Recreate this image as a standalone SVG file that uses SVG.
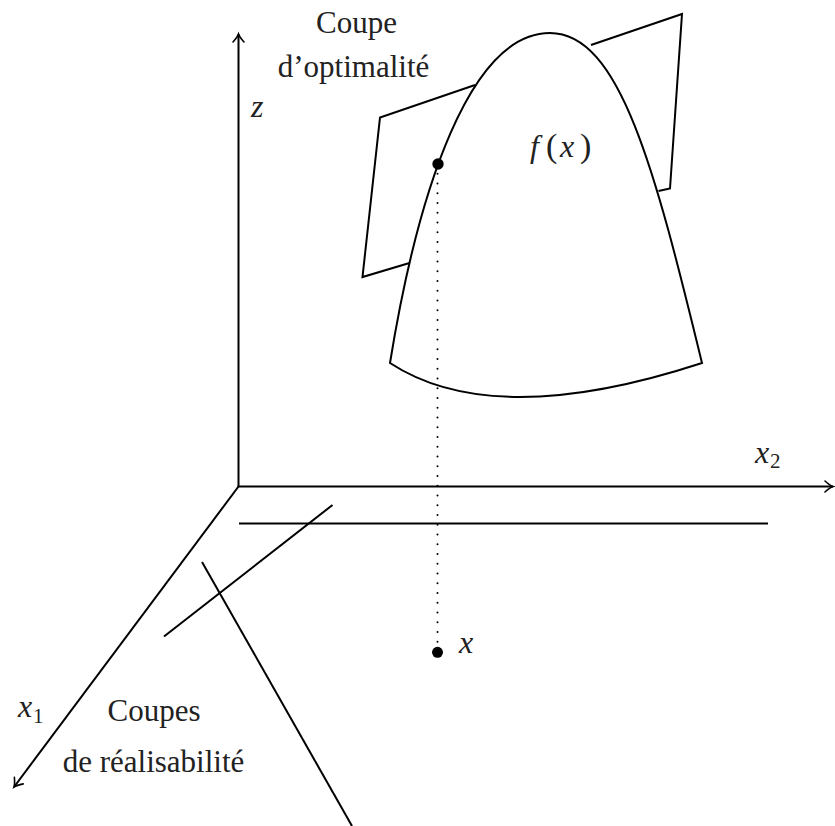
<svg xmlns="http://www.w3.org/2000/svg" width="835" height="826" viewBox="0 0 835 826">
<defs>
<style>
.ln{fill:none;stroke:#000;stroke-width:2;stroke-linejoin:miter}
.dot{fill:none;stroke:#000;stroke-width:2;stroke-linecap:round;stroke-dasharray:0 9.75}
.txt{font-family:"Liberation Serif","Times New Roman",serif;font-size:31px;fill:#222}
.math{font-family:"Liberation Serif","Times New Roman",serif;font-size:32px;font-style:italic;fill:#222}
.sub{font-family:"Liberation Serif","Times New Roman",serif;font-size:21px;font-style:normal;fill:#222}
.up{font-style:normal;font-size:34px}
</style>
<marker id="arr" markerUnits="userSpaceOnUse" markerWidth="20" markerHeight="20" refX="0" refY="0" viewBox="-10 -10 20 20" orient="auto" overflow="visible">
<path d="M-8,-5.5 Q-3,-1 0,0 Q-3,1 -8,5.5" fill="none" stroke="#000" stroke-width="1.6" stroke-linecap="round"/>
</marker>
</defs>
<rect width="835" height="826" fill="#fff"/>
<g id="connectors">
<line id="axis-z" class="ln" x1="238.5" y1="487" x2="238.5" y2="34" marker-end="url(#arr)"/>
<line id="axis-x2" class="ln" x1="237.5" y1="486.5" x2="833" y2="486.5" marker-end="url(#arr)"/>
<line id="axis-x1" class="ln" x1="238.5" y1="486.5" x2="14" y2="787" marker-end="url(#arr)"/>
<line id="proj" class="dot" x1="437.5" y1="164" x2="437.5" y2="652"/>
</g>
<g id="cuts-feasibility">
<line class="ln" x1="239" y1="523.5" x2="768" y2="523.5"/>
<line class="ln" x1="332.5" y1="505" x2="164" y2="636.5"/>
<line class="ln" x1="202" y1="562" x2="352" y2="826"/>
</g>
<g id="cut-optimality">
<polyline class="ln" points="475,85 380,117.5 362.5,277 409.5,263"/>
<polyline class="ln" points="591,45 682,14 670,188.5 658.5,191"/>
</g>
<g id="surface">
<path class="ln" d="M390,363 C418,190 470,33 550,33 C620,33 655,170 702,363 Q494,431 390,363 Z"/>
</g>
<g id="point-fx"><circle cx="438" cy="164" r="5.7" fill="#000"/></g>
<g id="point-x"><circle cx="437.5" cy="652.3" r="5.5" fill="#000"/></g>
<g id="labels">
<text class="txt" x="356.5" y="33" text-anchor="middle">Coupe</text>
<text class="txt" x="353.5" y="77" text-anchor="middle">d’optimalité</text>
<text class="math" x="251" y="117">z</text>
<text class="math" y="157"><tspan x="530">f</tspan><tspan class="up" x="546">(</tspan><tspan x="560">x</tspan><tspan class="up" x="580">)</tspan></text>
<text class="math" x="459" y="653">x</text>
<text class="math" x="755" y="463">x<tspan class="sub" x="770" y="468">2</tspan></text>
<text class="math" x="18" y="717">x<tspan class="sub" x="33" y="723">1</tspan></text>
<text class="txt" x="154" y="721" text-anchor="middle">Coupes</text>
<text class="txt" x="153.5" y="772" text-anchor="middle">de réalisabilité</text>
</g>
</svg>
